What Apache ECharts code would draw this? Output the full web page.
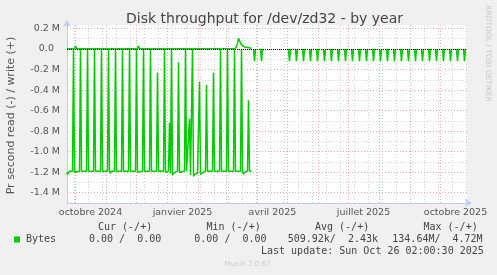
<!DOCTYPE html>
<html><head><meta charset="utf-8">
<script src="https://cdn.jsdelivr.net/npm/echarts@6/dist/echarts.min.js"></script>
<style>html,body{margin:0;padding:0;background:#f0f0f0}#c{width:497px;height:275px}</style>
</head><body><div id="c"></div><script>
// ---- data (bytes per second) ----
const readDates = [
'2024-09-22T12:00','2024-09-23','2024-09-24','2024-09-25','2024-09-28','2024-09-29','2024-09-30','2024-10-01','2024-10-02','2024-10-05','2024-10-06','2024-10-07','2024-10-09','2024-10-12','2024-10-13','2024-10-14','2024-10-19','2024-10-20','2024-10-21','2024-10-26','2024-10-27','2024-10-28',
'2024-11-02','2024-11-03','2024-11-04','2024-11-05','2024-11-06','2024-11-09','2024-11-10','2024-11-11','2024-11-16','2024-11-17','2024-11-18','2024-11-23','2024-11-24','2024-11-25','2024-11-30',
'2024-12-01','2024-12-02','2024-12-07','2024-12-08','2024-12-09','2024-12-14','2024-12-15','2024-12-16','2024-12-21','2024-12-22','2024-12-23','2024-12-28','2024-12-29','2024-12-30',
'2025-01-02','2025-01-03','2025-01-04','2025-01-05','2025-01-06','2025-01-07','2025-01-09','2025-01-11','2025-01-12','2025-01-13','2025-01-18','2025-01-19','2025-01-20','2025-01-22','2025-01-23','2025-01-24','2025-01-25','2025-01-26','2025-01-27','2025-01-28','2025-01-29','2025-01-31',
'2025-02-01','2025-02-02','2025-02-03','2025-02-04','2025-02-08','2025-02-09','2025-02-10','2025-02-15','2025-02-16','2025-02-17','2025-02-22','2025-02-23','2025-02-24',
'2025-03-01','2025-03-02','2025-03-03','2025-03-08','2025-03-09','2025-03-10','2025-03-15','2025-03-16','2025-03-17','2025-03-18','2025-03-19','2025-03-22','2025-03-23','2025-03-24','2025-03-26','2025-03-27',
'2025-03-28','2025-03-29','2025-03-30','2025-03-31',
'2025-04-04','2025-04-05','2025-04-06','2025-04-07',
'2025-05-02','2025-05-03','2025-05-04','2025-05-05',
'2025-05-09','2025-05-10','2025-05-11','2025-05-12',
'2025-05-16','2025-05-17','2025-05-18','2025-05-19',
'2025-05-23','2025-05-24','2025-05-25','2025-05-26',
'2025-05-30','2025-05-31','2025-06-01','2025-06-02',
'2025-06-06','2025-06-07','2025-06-08','2025-06-09',
'2025-06-13','2025-06-14','2025-06-15','2025-06-16',
'2025-06-20','2025-06-21','2025-06-22','2025-06-23',
'2025-06-27','2025-06-28','2025-06-29','2025-06-30',
'2025-07-04','2025-07-05','2025-07-06','2025-07-07',
'2025-07-11','2025-07-12','2025-07-13','2025-07-14',
'2025-07-18','2025-07-19','2025-07-20','2025-07-21',
'2025-07-25','2025-07-26','2025-07-27','2025-07-28',
'2025-08-01','2025-08-02','2025-08-03','2025-08-04',
'2025-08-08','2025-08-09','2025-08-10','2025-08-11',
'2025-08-15','2025-08-16','2025-08-17','2025-08-18',
'2025-08-22','2025-08-23','2025-08-24','2025-08-25',
'2025-08-29','2025-08-30','2025-08-31','2025-09-01',
'2025-09-05','2025-09-06','2025-09-07','2025-09-08',
'2025-09-12','2025-09-13','2025-09-14','2025-09-15',
'2025-09-19','2025-09-20','2025-09-21','2025-09-22',
'2025-09-26','2025-09-27','2025-09-28','2025-09-29',
'2025-10-03','2025-10-04','2025-10-05','2025-10-06',
'2025-10-10','2025-10-11','2025-10-12','2025-10-13',
'2025-10-17','2025-10-18','2025-10-19','2025-10-20',
'2025-10-24','2025-10-25','2025-10-26'
];
const readValues = [
1.20e6,1.22e6,1.21e6,1.19e6,1.19e6,0,1.20e6,1.21e6,1.20e6,1.19e6,0,1.19e6,1.20e6,1.19e6,0,1.19e6,1.19e6,0,1.19e6,1.19e6,0,1.19e6,
1.19e6,0,1.19e6,1.21e6,1.19e6,1.19e6,0,1.19e6,1.19e6,0,1.19e6,1.19e6,0,1.19e6,1.19e6,
0,1.20e6,1.19e6,0,1.19e6,1.19e6,0,1.19e6,1.19e6,0.23e6,1.19e6,1.19e6,0,1.20e6,
1.19e6,0.72e6,1.21e6,0,1.23e6,1.21e6,1.20e6,1.19e6,0.13e6,1.20e6,1.19e6,0,1.19e6,1.20e6,0.68e6,1.23e6,1.22e6,0,1.24e6,1.22e6,1.23e6,1.21e6,
1.20e6,0.32e6,1.22e6,1.21e6,1.19e6,0.35e6,1.19e6,1.19e6,0.23e6,1.19e6,1.19e6,0,1.19e6,
1.19e6,0,1.19e6,1.19e6,0,1.19e6,1.19e6,0,1.19e6,1.22e6,1.20e6,1.19e6,0.50e6,1.19e6,1.19e6,null,
0,0.12e6,0,null,
0,0.12e6,0,null,
0,0.12e6,0,null,
0,0.12e6,0,null,
0,0.12e6,0,null,
0,0.12e6,0,null,
0,0.12e6,0,null,
0,0.12e6,0,null,
0,0.12e6,0,null,
0,0.12e6,0,null,
0,0.12e6,0,null,
0,0.12e6,0,null,
0,0.12e6,0,null,
0,0.12e6,0,null,
0,0.12e6,0,null,
0,0.12e6,0,null,
0,0.12e6,0,null,
0,0.12e6,0,null,
0,0.12e6,0,null,
0,0.12e6,0,null,
0,0.12e6,0,null,
0,0.12e6,0,null,
0,0.12e6,0,null,
0,0.12e6,0,null,
0,0.12e6,0,null,
0,0.12e6,0,null,
0,0.12e6,0,null,
0,0.12e6,0
];
const writeDates = ['2024-09-22T12:00','2024-09-30','2024-10-01','2024-10-02','2024-10-09','2024-10-10','2024-10-11','2024-12-02','2024-12-03','2024-12-04','2025-01-20','2025-01-21','2025-01-22','2025-03-10','2025-03-11','2025-03-12','2025-03-13','2025-03-14','2025-03-15','2025-03-16','2025-03-17','2025-03-18','2025-03-19','2025-03-20','2025-03-26'];
const writeValues = [0.002e6,0.002e6,0.03e6,0.003e6,0.002e6,0.012e6,0.002e6,0.002e6,0.03e6,0.002e6,0.002e6,0.012e6,0.002e6,0.005e6,0.01e6,0.05e6,0.105e6,0.095e6,0.06e6,0.04e6,0.055e6,0.05e6,0.02e6,0.006e6,0.006e6];

const yMajorTicks = [-1.4e6,-1.2e6,-1.0e6,-0.8e6,-0.6e6,-0.4e6,-0.2e6,0,0.2e6];
const yMinorTicks = [-1.3e6,-1.1e6,-0.9e6,-0.7e6,-0.5e6,-0.3e6,-0.1e6,0.1e6];
const monthGridDates = ['2024-10-01','2024-11-01','2024-12-01','2025-01-01','2025-02-01','2025-03-01','2025-04-01','2025-05-01','2025-06-01','2025-07-01','2025-08-01','2025-09-01','2025-10-01'];
const weekGridDates = ['2024-09-30','2024-10-14','2024-10-28','2024-11-11','2024-11-25','2024-12-09','2024-12-23','2025-01-06','2025-01-20','2025-02-03','2025-02-17','2025-03-03','2025-03-17','2025-03-31','2025-04-14','2025-04-28','2025-05-12','2025-05-26','2025-06-09','2025-06-23','2025-07-07','2025-07-21','2025-08-04','2025-08-18','2025-09-01','2025-09-15','2025-09-29','2025-10-13','2025-10-27'];
const xLabelDates = ['2024-10-16','2025-01-16','2025-04-16','2025-07-16','2025-10-16'];
const xLabelTexts = ['octobre 2024','janvier 2025','avril 2025','juillet 2025','octobre 2025'];
const rangeStart = '2024-09-22T12:00', rangeEnd = '2025-10-27T12:00';

// ---- helpers ----
function t(s){ return Date.parse(s.length === 10 ? s + 'T00:00:00Z' : s + ':00Z'); }
const readData = readDates.map((d,i) => [t(d), readValues[i] === null ? null : -readValues[i]]);
const writeData = writeDates.map((d,i) => [t(d), writeValues[i]]);
const GREEN = '#00cc00';
const sans = "'DejaVu Sans', sans-serif";

function gridSeries(color, xs, ys){
  return {
    type:'line', data:[], silent:true, z:1,
    markLine:{
      z:1, silent:true, symbol:['none','none'], animation:false,
      label:{show:false},
      lineStyle:{color:color, width:1, type:[1,2]},
      emphasis:{disabled:true},
      data: xs.map(d => ({xAxis:t(d)})).concat(ys.map(v => ({yAxis:v})))
    }
  };
}

const chart = echarts.init(document.getElementById('c'), null, {renderer:'canvas'});
chart.setOption({
  backgroundColor:'#f0f0f0',
  animation:false,
  grid:{left:67, top:25, width:400, height:178, show:true, backgroundColor:'#ffffff', borderWidth:0},
  xAxis:{
    type:'value', min:t(rangeStart), max:t(rangeEnd), scale:true,
    axisLine:{onZero:false, show:true, lineStyle:{color:'#c4c8f4', width:1}, symbol:['none','arrow'], symbolSize:[6,7], symbolOffset:[0,5]},
    axisTick:{show:false},
    splitLine:{show:false},
    axisLabel:{
      customValues: xLabelDates.map(t),
      formatter: v => { const i = xLabelDates.findIndex(d => t(d) === v); return i >= 0 ? xLabelTexts[i] : ''; },
      color:'#555', fontFamily:sans, fontSize:9.5, margin:5, hideOverlap:false
    }
  },
  yAxis:{
    type:'value', min:-1.5e6, max:0.2333e6,
    axisLine:{show:true, lineStyle:{color:'#c4c8f4', width:1}, symbol:['none','arrow'], symbolSize:[6,7], symbolOffset:[0,5]},
    axisTick:{show:false},
    splitLine:{show:false},
    axisLabel:{
      customValues: yMajorTicks,
      formatter: v => Math.abs(v) < 1 ? '0.0  ' : (v/1e6).toFixed(1) + ' M',
      color:'#555', fontFamily:sans, fontSize:9.5, margin:7
    }
  },
  series:[
    gridSeries('#d4d4d4', weekGridDates, yMinorTicks),
    gridSeries('#eeaaaa', monthGridDates, yMajorTicks),
    {type:'line', name:'read', data:readData, z:3, showSymbol:false, symbol:'none', connectNulls:false,
     lineStyle:{color:GREEN, width:1.5}, itemStyle:{color:GREEN}, silent:true},
    {type:'line', name:'write', data:writeData, z:3, showSymbol:false, symbol:'none', connectNulls:false,
     lineStyle:{color:GREEN, width:1.5}, itemStyle:{color:GREEN}, silent:true},
    {type:'line', data:[], z:5, silent:true,
     markLine:{z:6, silent:true, symbol:['none','none'], animation:false, label:{show:false},
       lineStyle:{color:'#000000', width:1, type:[1,1]}, data:[{yAxis:0}]}}
  ],
  graphic:[
    {type:'text', style:{x:264.5, y:19, text:'Disk throughput for /dev/zd32 - by year', font:"14px 'DejaVu Sans'", fill:'#444', align:'center', verticalAlign:'middle'}},
    {type:'text', x:11, y:115.5, rotation:Math.PI/2, style:{x:0, y:0, text:'Pr second read (-) / write (+)', font:"11px 'DejaVu Sans'", fill:'#555', align:'center', verticalAlign:'middle'}},
    {type:'text', x:488, y:53.5, rotation:-Math.PI/2, style:{x:0, y:0, text:'RRDTOOL / TOBI OETIKER', font:"7.5px 'DejaVu Sans'", fill:'#c8c8c8', align:'center', verticalAlign:'middle'}},
    {type:'text', style:{x:98, y:227.5, text:'Cur (-/+)', font:"10px 'DejaVu Sans Mono'", fill:'#444', align:'left', verticalAlign:'middle'}},
    {type:'text', style:{x:206.5, y:227.5, text:'Min (-/+)', font:"10px 'DejaVu Sans Mono'", fill:'#444', align:'left', verticalAlign:'middle'}},
    {type:'text', style:{x:315, y:227.5, text:'Avg (-/+)', font:"10px 'DejaVu Sans Mono'", fill:'#444', align:'left', verticalAlign:'middle'}},
    {type:'text', style:{x:423.5, y:227.5, text:'Max (-/+)', font:"10px 'DejaVu Sans Mono'", fill:'#444', align:'left', verticalAlign:'middle'}},
    {type:'rect', shape:{x:14, y:236.5, width:6, height:6}, style:{fill:GREEN}},
    {type:'text', style:{x:26, y:239.5, text:'Bytes', font:"10px 'DejaVu Sans Mono'", fill:'#444', align:'left', verticalAlign:'middle'}},
    {type:'text', style:{x:89, y:239.5, text:'0.00 /  0.00', font:"10px 'DejaVu Sans Mono'", fill:'#444', align:'left', verticalAlign:'middle'}},
    {type:'text', style:{x:194.3, y:239.5, text:'0.00 /  0.00', font:"10px 'DejaVu Sans Mono'", fill:'#444', align:'left', verticalAlign:'middle'}},
    {type:'text', style:{x:287.7, y:239.5, text:'509.92k/  2.43k', font:"10px 'DejaVu Sans Mono'", fill:'#444', align:'left', verticalAlign:'middle'}},
    {type:'text', style:{x:392.3, y:239.5, text:'134.64M/  4.72M', font:"10px 'DejaVu Sans Mono'", fill:'#444', align:'left', verticalAlign:'middle'}},
    {type:'text', style:{x:261, y:251, text:'Last update: Sun Oct 26 02:00:30 2025', font:"10px 'DejaVu Sans Mono'", fill:'#444', align:'left', verticalAlign:'middle'}},
    {type:'text', style:{x:247.5, y:264.5, text:'Munin 2.0.67', font:"7px 'DejaVu Sans'", fill:'#cccccc', align:'center', verticalAlign:'middle'}}
  ]
});
</script></body></html>
